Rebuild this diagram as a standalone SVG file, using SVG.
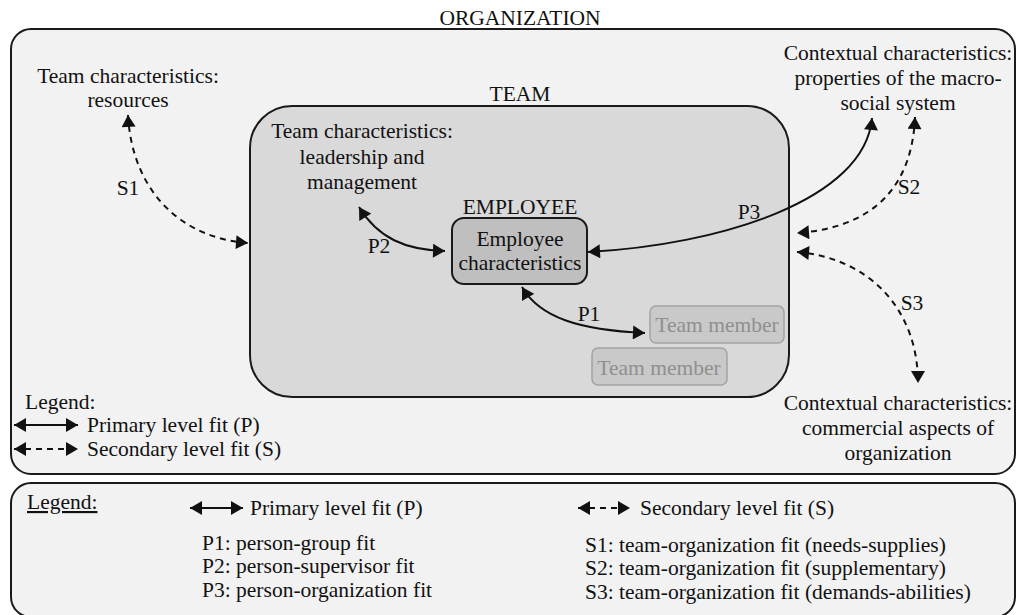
<svg xmlns="http://www.w3.org/2000/svg" width="1016" height="615" viewBox="0 0 1016 615">
  <style>
    text { font-family: "Liberation Serif", "DejaVu Serif", "Noto Serif", Tinos, Times, serif; font-size: 21.5px; fill: #111; }
    .c { text-anchor: middle; }
    .frame { fill: #f2f2f2; stroke: #1a1a1a; stroke-width: 2; }
    .team { fill: #d9d9d9; stroke: #1a1a1a; stroke-width: 2; }
    .emp { fill: #bfbfbf; stroke: #1a1a1a; stroke-width: 2; }
    .member { fill: #c9c9c9; stroke: #a3a3a3; stroke-width: 1.5; }
    .member-t { fill: #8f8f8f; }
    .fit { fill: none; stroke: #111; stroke-width: 2; marker-start: url(#head); marker-end: url(#head); }
    .dash { stroke-dasharray: 6 5; }
  </style>
  <defs>
    <marker id="head" markerUnits="userSpaceOnUse" markerWidth="13" markerHeight="14" viewBox="0 0 12 14" refX="12" refY="7" orient="auto-start-reverse">
      <path d="M0,0 L12,7 L0,14 z" fill="#111"/>
    </marker>
  </defs>

  <rect width="1016" height="615" fill="#fff"/>

  <!-- organization frame -->
  <g id="organization">
    <text class="c" x="520" y="25">ORGANIZATION</text>
    <rect class="frame" x="11" y="29" width="1004" height="445" rx="20"/>
  </g>

  <!-- team frame -->
  <g id="team">
    <text class="c" x="520" y="101">TEAM</text>
    <rect class="team" x="250" y="106" width="539" height="291" rx="42"/>
  </g>

  <g id="team-leadership">
    <text class="c" x="362" y="138">Team characteristics:</text>
    <text class="c" x="362" y="164">leadership and</text>
    <text class="c" x="362" y="189">management</text>
  </g>

  <g id="employee">
    <text class="c" x="520" y="214">EMPLOYEE</text>
    <rect class="emp" x="452" y="218" width="135" height="66" rx="12"/>
    <text class="c" x="520" y="246">Employee</text>
    <text class="c" x="520" y="270">characteristics</text>
  </g>

  <g id="member-1">
    <rect class="member" x="650" y="306" width="134" height="37" rx="6"/>
    <text class="c member-t" x="717" y="332">Team member</text>
  </g>
  <g id="member-2">
    <rect class="member" x="592" y="348" width="135" height="37" rx="6"/>
    <text class="c member-t" x="659" y="375">Team member</text>
  </g>

  <g id="team-resources">
    <text class="c" x="128" y="83">Team characteristics:</text>
    <text class="c" x="128" y="107">resources</text>
  </g>

  <g id="context-macro">
    <text class="c" x="898" y="60">Contextual characteristics:</text>
    <text class="c" x="898" y="85">properties of the macro-</text>
    <text class="c" x="898" y="110">social system</text>
  </g>

  <g id="context-commercial">
    <text class="c" x="898" y="410">Contextual characteristics:</text>
    <text class="c" x="898" y="435">commercial aspects of</text>
    <text class="c" x="898" y="460">organization</text>
  </g>

  <!-- fit connectors -->
  <g id="connectors">
    <path class="fit dash" d="M128,115 C132,190 180,238 248,243"/>
    <path class="fit" d="M359,207 C378,238 405,250 445,251"/>
    <path class="fit" d="M522,287 C540,318 580,330 645,333"/>
    <path class="fit" d="M588,252 C720,245 865,200 872,118"/>
    <path class="fit dash" d="M915,117 C912,190 870,228 797,233"/>
    <path class="fit dash" d="M797,252 C870,258 918,310 918,383"/>
    <text class="c" x="128" y="195">S1</text>
    <text class="c" x="379" y="253">P2</text>
    <text class="c" x="589" y="321">P1</text>
    <text class="c" x="749" y="219">P3</text>
    <text class="c" x="909" y="194">S2</text>
    <text class="c" x="912" y="310">S3</text>
  </g>

  <!-- inner legend -->
  <g id="legend-inner">
    <text x="25" y="409">Legend:</text>
    <path class="fit" d="M14,425 L78,425"/>
    <text x="87" y="432">Primary level fit (P)</text>
    <path class="fit dash" d="M14,449 L78,449"/>
    <text x="87" y="456">Secondary level fit (S)</text>
  </g>

  <!-- bottom legend -->
  <g id="legend-bottom">
    <rect class="frame" x="11" y="483" width="1004" height="134" rx="20"/>
    <text x="27" y="509" text-decoration="underline">Legend:</text>
    <path class="fit" d="M190,508 L243,508"/>
    <text x="250" y="515">Primary level fit (P)</text>
    <path class="fit dash" d="M578,508 L630,508"/>
    <text x="640" y="515">Secondary level fit (S)</text>
    <text x="202" y="550">P1: person-group fit</text>
    <text x="202" y="573">P2: person-supervisor fit</text>
    <text x="202" y="597">P3: person-organization fit</text>
    <text x="585" y="552">S1: team-organization fit (needs-supplies)</text>
    <text x="585" y="575">S2: team-organization fit (supplementary)</text>
    <text x="585" y="599">S3: team-organization fit (demands-abilities)</text>
  </g>
</svg>
